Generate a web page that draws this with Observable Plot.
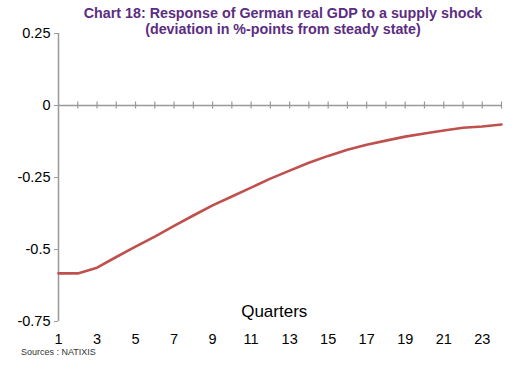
<!DOCTYPE html>
<html>
<head>
<meta charset="utf-8">
<script src="https://cdn.jsdelivr.net/npm/d3@7"></script>
<script src="https://cdn.jsdelivr.net/npm/@observablehq/plot@0.6"></script>
<style>
  html, body { margin: 0; padding: 0; background: #fff; }
  #wrap { position: relative; width: 519px; height: 369px; font-family: "Liberation Sans", Arial, sans-serif; }
  #title { position: absolute; left: 63px; width: 440px; top: 6px; text-align: center; color: #5c2d82; font-weight: bold; font-size: 14.3px; line-height: 15.5px; }
  #source { position: absolute; left: 21px; top: 347px; font-size: 9px; color: #333; }
</style>
</head>
<body>
<div id="wrap">
  <div id="chart"></div>
  <div id="title">Chart 18: Response of German real GDP to a supply shock<br>(deviation in %-points from steady state)</div>
  <div id="source">Sources : NATIXIS</div>
</div>
<script>
const quarters = [1,2,3,4,5,6,7,8,9,10,11,12,13,14,15,16,17,18,19,20,21,22,23,24];
const gdpDeviation = [-0.583,-0.583,-0.563,-0.526,-0.490,-0.455,-0.418,-0.382,-0.347,-0.316,-0.285,-0.254,-0.226,-0.199,-0.175,-0.154,-0.136,-0.122,-0.108,-0.097,-0.087,-0.077,-0.073,-0.066];
const xTickLabels = [1,3,5,7,9,11,13,15,17,19,21,23];
const yTicks = [0.25, 0, -0.25, -0.5, -0.75];
const xAxisTitle = "Quarters";

const data = quarters.map((q, i) => ({q, v: gdpDeviation[i]}));

const chart = Plot.plot({
  width: 519,
  height: 369,
  marginLeft: 58,
  marginRight: 18,
  marginTop: 33,
  marginBottom: 48,
  style: {fontFamily: "'Liberation Sans', Arial, sans-serif", fontSize: "13px", color: "#000", background: "#fff"},
  x: {domain: [1, 24], label: null},
  y: {domain: [-0.75, 0.25], label: null},
  marks: [
    Plot.ruleX([1], {stroke: "#999", strokeWidth: 1.5}),
    Plot.ruleY([0], {stroke: "#999", strokeWidth: 1.5}),
    Plot.ruleX(quarters.slice(1), {x: d => d, y1: 0, y2: 0, insetTop: -3.5, insetBottom: -3.5, stroke: "#999", strokeWidth: 1.2}),
    Plot.axisY({ticks: yTicks, tickSize: 4, tickPadding: 4, stroke: "#999", tickFormat: d => String(d), fontSize: 14.5, label: null}),
    Plot.axisX({ticks: xTickLabels, tickSize: 0, tickPadding: 12, tickFormat: d => String(d), fontSize: 14.5, label: null}),
    Plot.text([xAxisTitle], {x: 12.2, y: -0.75, text: d => d, dy: -10, fontSize: 17, textAnchor: "middle"}),
    Plot.line(data, {x: "q", y: "v", stroke: "#c0504d", strokeWidth: 2.6})
  ]
});
document.getElementById("chart").appendChild(chart);
</script>
</body>
</html>
